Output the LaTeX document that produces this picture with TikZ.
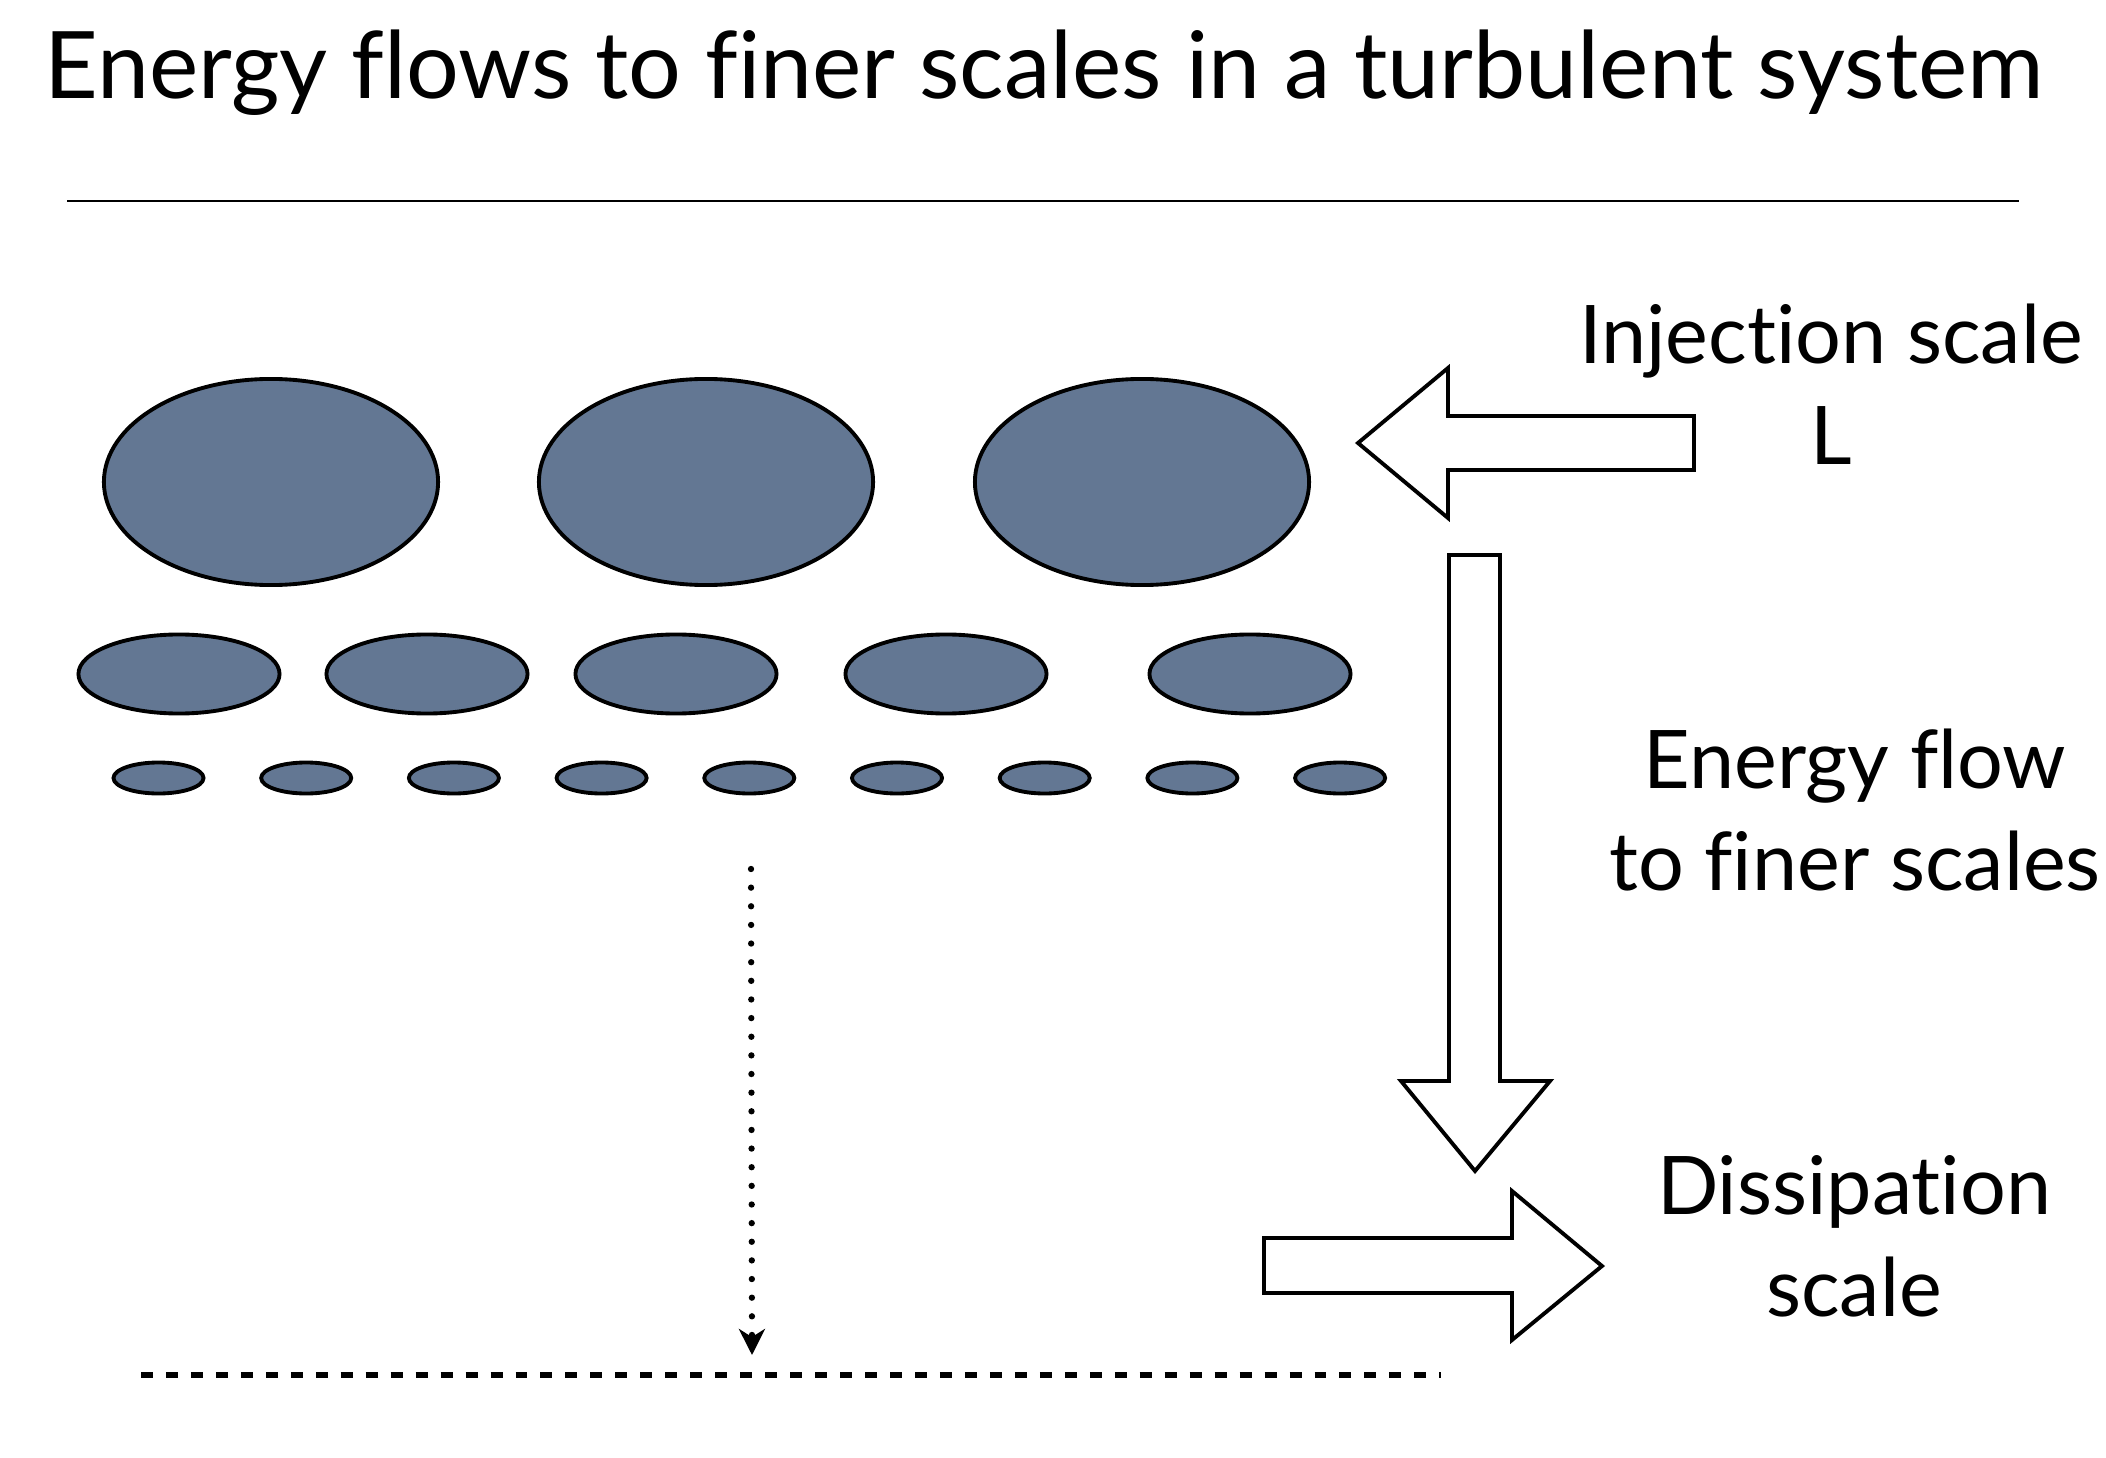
\documentclass[tikz,border=0pt]{standalone}
\usepackage{fontspec}
\setsansfont{Lato}[Ligatures=NoCommon]
\usetikzlibrary{shapes.geometric, arrows.meta}

\definecolor{eddyblue}{RGB}{99,119,147}

\tikzset{
	eddy/.style={ellipse, draw=black, line width=1.1pt, fill=eddyblue, inner sep=0pt},
	blockarrow/.style={draw=black, line width=1.1pt, fill=white, line join=miter},
	scaletext/.style={anchor=base, align=center, font=\sffamily\fontsize{23}{29}\selectfont},
}

\begin{document}
\begin{tikzpicture}[x=0.01cm, y=-0.01cm, font=\sffamily]
	
	\useasboundingbox (0,0) rectangle (2106,1458);
	
	% --- Title ---
	\node[anchor=base, font=\sffamily\fontsize{26.5}{32}\selectfont] (title) at (1044,99)
	{Energy flows to finer scales in a turbulent system};
	\draw[line width=0.6pt] (67,201) -- (2019,201);
	
	% =======================================================
	% EDDIES: three rows, each finer than the one above
	% =======================================================
	\foreach \i/\x in {1/271, 2/706, 3/1142}
	\node[eddy, minimum width=3.34cm, minimum height=2.06cm] (big\i) at (\x,482) {};
	
	\foreach \i/\x in {1/179, 2/427, 3/676, 4/946, 5/1250}
	\node[eddy, minimum width=2.01cm, minimum height=0.79cm] (mid\i) at (\x,674) {};
	
	\foreach \i in {1,...,9}
	\node[eddy, minimum width=0.90cm, minimum height=0.31cm] (small\i) at ({158.5+147.7*(\i-1)},778) {};
	
	% =======================================================
	% BLOCK ARROWS
	% =======================================================
	% injection (pointing left)
	\draw[blockarrow] (1358,443) -- ++(90,-75) -- ++(0,48) -- ++(246,0)
	-- ++(0,54) -- ++(-246,0) -- ++(0,48) -- cycle;
	
	% energy flow (pointing down)
	\draw[blockarrow] (1475,1171) -- ++(-74,-90) -- ++(48,0) -- ++(0,-526)
	-- ++(51,0) -- ++(0,526) -- ++(50,0) -- cycle;
	
	% dissipation (pointing right)
	\draw[blockarrow] (1602,1266) -- ++(-90,-75) -- ++(0,47) -- ++(-248,0)
	-- ++(0,55) -- ++(248,0) -- ++(0,47) -- cycle;
	
	% --- Labels (base = last line) ---
	\node[scaletext] (injection) at (1831,465) {Injection scale\\L};
	\node[scaletext] (flow) at (1855,890) {Energy flow\\to finer scales};
	\node[scaletext] (dissipation) at (1854,1316) {Dissipation\\scale};
	
	% =======================================================
	% CASCADE DOWN TO THE DISSIPATION LEVEL
	% =======================================================
	\coordinate (drop top) at (751,869);
	\coordinate (drop end) at (752,1355);
	\coordinate (floor left) at (141,1375);
	\coordinate (floor right) at (1441,1375);
	
	\draw[line width=1.8pt, line cap=round, dash pattern=on 0pt off 5.3pt,
	-{Stealth[length=7.4pt, width=7.4pt, inset=2.3pt]}] (drop top) -- (drop end);
	\draw[line width=1.7pt, dash pattern=on 3.4pt off 3.7pt] (floor left) -- (floor right);
	
\end{tikzpicture}
\end{document}
